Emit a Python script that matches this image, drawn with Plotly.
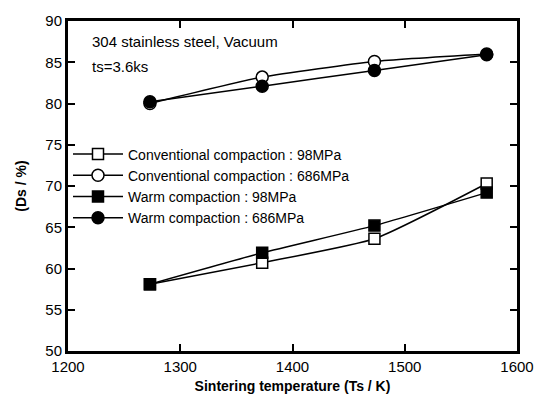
import plotly.graph_objects as go

temps = [1273, 1373, 1473, 1573]
conv_98 = [58.1, 60.7, 63.6, 70.3]
conv_686 = [80.0, 83.2, 85.1, 86.0]
warm_98 = [58.1, 61.9, 65.2, 69.2]
warm_686 = [80.2, 82.1, 84.0, 85.9]

names = ["Conventional compaction : 98MPa", "Conventional compaction : 686MPa",
         "Warm compaction : 98MPa", "Warm compaction : 686MPa"]
series = [conv_98, conv_686, warm_98, warm_686]
symbols = ["square", "circle", "square", "circle"]
fills = ["white", "white", "black", "black"]

FONT = "Liberation Sans, Arial"

fig = go.Figure()
for n, s, sym, fc in zip(names, series, symbols, fills):
    fig.add_trace(go.Scatter(
        x=temps, y=s, name=n, mode="lines+markers",
        line=dict(color="black", width=1.5, shape="spline", smoothing=0.5),
        marker=dict(symbol=sym, size=12 if sym == "circle" else 11, color=fc,
                    line=dict(color="black", width=1.5)),
    ))

axis_common = dict(showline=True, linecolor="black", linewidth=3, mirror="ticks",
                   ticks="inside", ticklen=7, tickwidth=2, tickcolor="black",
                   showgrid=False, zeroline=False,
                   tickfont=dict(family=FONT, size=15, color="black"))

fig.update_xaxes(range=[1200, 1600], dtick=100, **axis_common,
                 title=dict(text="<b>Sintering temperature (Ts / K)</b>",
                            font=dict(family=FONT, size=14, color="black"),
                            standoff=8))
fig.update_yaxes(range=[50, 90], dtick=5, **axis_common,
                 title=dict(text="<b>(Ds / %)</b>",
                            font=dict(family=FONT, size=14, color="black"),
                            standoff=16))

fig.add_annotation(x=0.05, y=87.5, xref="paper", yref="y", yanchor="middle", xanchor="left",
                   text="304 stainless steel, Vacuum", showarrow=False,
                   font=dict(family=FONT, size=15, color="black"))
fig.add_annotation(x=0.05, y=84.5, xref="paper", yref="y", xanchor="left", yanchor="middle",
                   text="ts=3.6ks", showarrow=False,
                   font=dict(family=FONT, size=15, color="black"))

fig.update_layout(
    width=546, height=410,
    margin=dict(l=68, r=28, t=16, b=59),
    paper_bgcolor="white", plot_bgcolor="white",
    showlegend=True,
    legend=dict(x=0.0, y=0.50, xanchor="left", yanchor="middle",
                bgcolor="rgba(0,0,0,0)", itemwidth=50, tracegroupgap=0,
                font=dict(family=FONT, size=14, color="black")),
)

fig.write_html("out.html")
